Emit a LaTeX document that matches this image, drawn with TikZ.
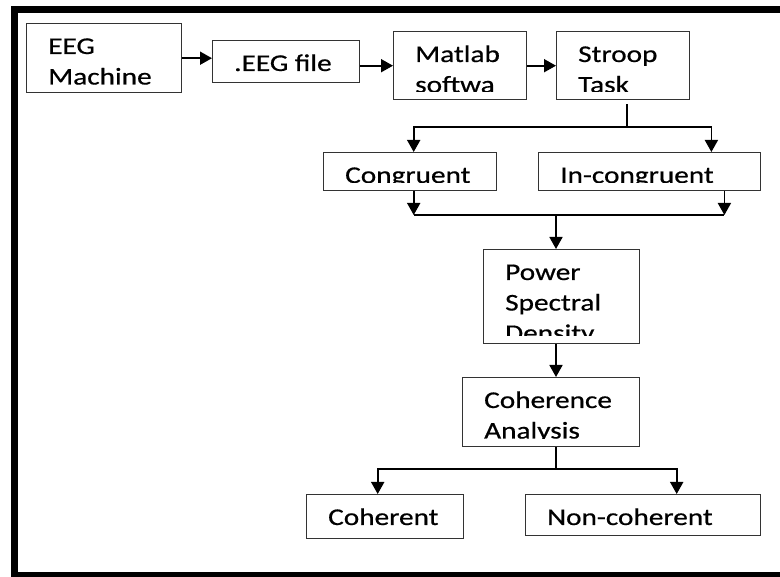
\documentclass[tikz,border=0pt]{standalone}
\usepackage{fontspec}
\setmainfont{Carlito}[FakeStretch=1.22,FakeBold=0.6]
\usetikzlibrary{arrows.meta}

% text of a box: left aligned, clipped a little above the box's lower edge
\newcommand\boxlabel[3]{%
  \begin{scope}
    \clip (#1.north west) rectangle ([yshift=9pt]#1.south east);
    \node[lbl] (#2) at ([xshift=22pt,yshift=-31pt]#1.north west)
      {\parbox[t]{220pt}{\raggedright #3}};
  \end{scope}}

\begin{document}
\begin{tikzpicture}[x=1pt,y=-1pt,
  boxst/.style={draw=black!80, line width=1.4pt, anchor=north west, inner sep=0pt},
  link/.style={line width=1.8pt, black},
  arr/.style={link, -{Triangle[length=12pt,width=13pt]}},
  lbl/.style={inner sep=0pt, anchor=base west, text=black,
              font=\fontsize{24}{30.5}\selectfont}]

\useasboundingbox (0,0) rectangle (780,577);

% heavy frame (left, top, bottom)
\fill (11,6) rectangle (780,13);
\fill (11,6) rectangle (18,577);
\fill (11,572) rectangle (780,577);

% boxes
\node[boxst, minimum width=155pt, minimum height=69pt] (eeg)    at (26,23)  {};
\node[boxst, minimum width=147pt, minimum height=42pt] (file)   at (212,40) {};
\node[boxst, minimum width=133pt, minimum height=68pt] (matlab) at (393,31) {};
\node[boxst, minimum width=133pt, minimum height=68pt] (stroop) at (556,31) {};
\node[boxst, minimum width=173pt, minimum height=38pt] (cong)   at (323,152) {};
\node[boxst, minimum width=222pt, minimum height=38pt] (incong) at (538,152) {};
\node[boxst, minimum width=156pt, minimum height=94pt] (psd)    at (483,249) {};
\node[boxst, minimum width=177pt, minimum height=69pt] (coh)    at (462,377) {};
\node[boxst, minimum width=157pt, minimum height=44pt] (coht)   at (306,494) {};
\node[boxst, minimum width=235pt, minimum height=41pt] (noncoh) at (525,494) {};

% labels
\boxlabel{eeg}{teeg}{EEG\\Machine}
\boxlabel{file}{tfile}{.EEG file}
\boxlabel{matlab}{tmatlab}{Matlab\\softwa}
\boxlabel{stroop}{tstroop}{Stroop\\Task}
\boxlabel{cong}{tcong}{Congruent}
\boxlabel{incong}{tincong}{In-congruent}
\boxlabel{psd}{tpsd}{Power\\Spectral\\Density}
\boxlabel{coh}{tcoh}{Coherence\\Analysis}
\boxlabel{coht}{tcoht}{Coherent}
\boxlabel{noncoh}{tnoncoh}{Non-coherent}

% top row
\draw[arr] (eeg.east) -- (eeg.east -| file.west);
\draw[arr] (matlab.west -| file.east) -- (matlab.west);
\draw[arr] (matlab) -- (stroop);

% split after the Stroop task
\coordinate (sd) at (627,127);
\draw[link] ([yshift=-4pt]stroop.south -| sd) -- (sd);
\draw[arr] (sd) -| ([xshift=3.5pt]cong.north);
\draw[arr] (sd) -| ([xshift=-50pt]incong.north east);

% merge into the spectral density
\coordinate (mg) at (556,215);
\draw[arr] ([xshift=3.5pt]cong.south) -- ([xshift=3.5pt]cong.south |- mg);
\draw[arr] ([xshift=-37pt]incong.south east) -- ([xshift=-37pt]incong.south east |- mg);
\draw[link] ([xshift=3.5pt]cong.south |- mg) -- ([xshift=-37pt]incong.south east |- mg);
\draw[arr] (mg) -- (mg |- psd.north);
\draw[arr] (psd.south -| mg) -- (coh.north -| mg);

% split after the coherence analysis
\coordinate (sp) at (556,469);
\draw[link] (coh.south -| sp) -- (sp);
\draw[arr] (sp) -| ([xshift=-7.5pt]coht.north);
\draw[arr] (sp) -| ([xshift=33.5pt]noncoh.north);
\end{tikzpicture}
\end{document}
